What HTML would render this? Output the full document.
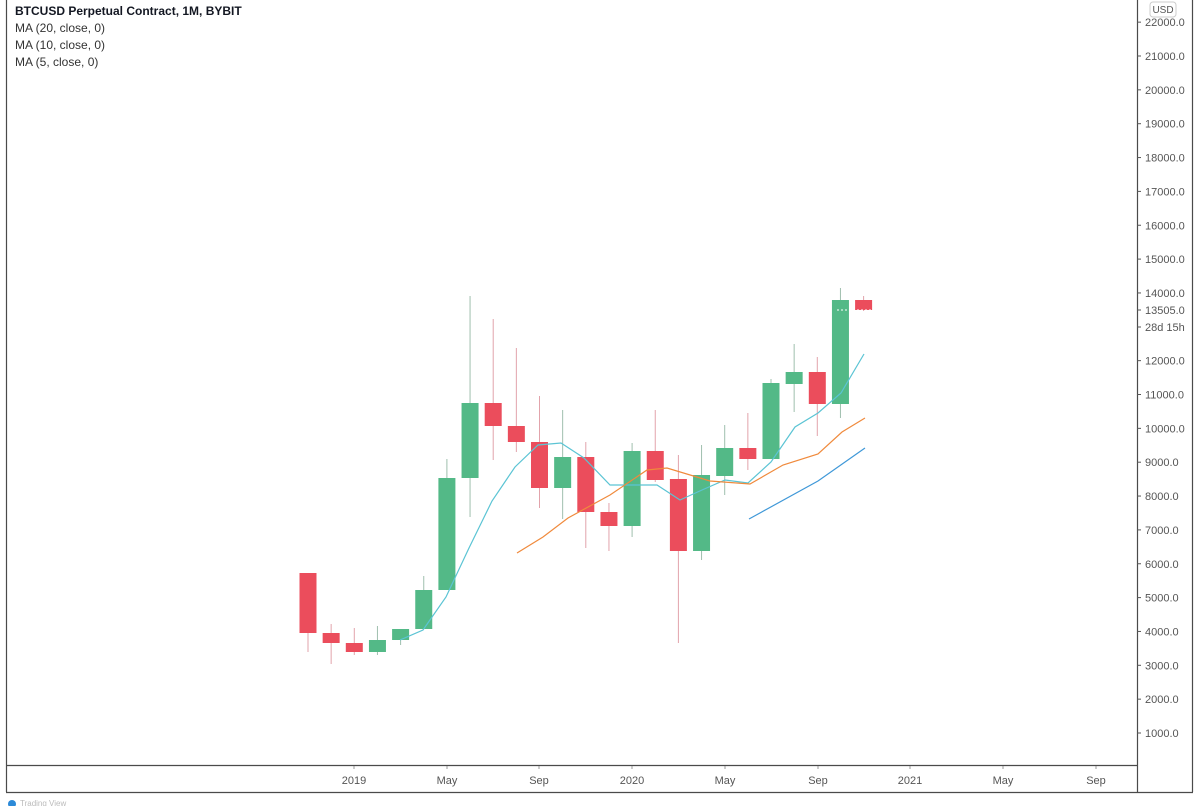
<!DOCTYPE html>
<html><head><meta charset="utf-8"><style>
html,body{margin:0;padding:0;background:#fff;width:1198px;height:806px;overflow:hidden}
svg{display:block;font-family:"Liberation Sans",sans-serif}
</style></head><body>
<svg width="1198" height="806" viewBox="0 0 1198 806">
<rect width="1198" height="806" fill="#fff"/>
<g stroke="#4a4a4a" stroke-width="1.2" fill="none">
<line x1="6.5" y1="0" x2="6.5" y2="792"/>
<line x1="6" y1="792.5" x2="1193" y2="792.5"/>
<line x1="6" y1="765.5" x2="1137" y2="765.5"/>
<line x1="1137.5" y1="0" x2="1137.5" y2="792"/>
<line x1="1192.5" y1="0" x2="1192.5" y2="792"/>
</g>
<g font-size="12" fill="#131722">
<text x="15" y="15" font-weight="bold">BTCUSD Perpetual Contract, 1M, BYBIT</text>
<text x="15" y="32" fill="#333">MA (20, close, 0)</text>
<text x="15" y="49" fill="#333">MA (10, close, 0)</text>
<text x="15" y="66" fill="#333">MA (5, close, 0)</text>
</g>
<g font-size="11" fill="#555" id="yax"></g>
<rect x="1150" y="2" width="26" height="15" rx="3" fill="#fff" stroke="#ccc"/>
<text x="1163" y="13" font-size="10" fill="#555" text-anchor="middle">USD</text>
<g font-size="11" fill="#555" text-anchor="middle">
<text x="354" y="784">2019</text><text x="447" y="784">May</text><text x="539" y="784">Sep</text>
<text x="632" y="784">2020</text><text x="725" y="784">May</text><text x="818" y="784">Sep</text>
<text x="910" y="784">2021</text><text x="1003" y="784">May</text><text x="1096" y="784">Sep</text>
</g>
<g stroke="#999" stroke-width="1">
<line x1="354" y1="766" x2="354" y2="769"/><line x1="447" y1="766" x2="447" y2="769"/><line x1="539" y1="766" x2="539" y2="769"/>
<line x1="632" y1="766" x2="632" y2="769"/><line x1="725" y1="766" x2="725" y2="769"/><line x1="818" y1="766" x2="818" y2="769"/>
<line x1="910" y1="766" x2="910" y2="769"/><line x1="1003" y1="766" x2="1003" y2="769"/><line x1="1096" y1="766" x2="1096" y2="769"/>
</g>
<g id="candles"></g>
<polyline fill="none" stroke="#5bc4d4" stroke-width="1.2" points="400,640 423,630 446,597 469,548 492,501 515,467 538,445 561,443 584,458 610,485 632,485 657,485 680,500 702,490 725,480 748,483 771,462 795,427 818,413 841,393 864,354"/>
<polyline fill="none" stroke="#f08a3c" stroke-width="1.2" points="517,553 543,537 568,518 610,495 647,470 667,468 710,481 750,484 783,465 818,454 842,432 865,418"/>
<polyline fill="none" stroke="#3f98d8" stroke-width="1.2" points="749,519 818,481 865,448"/>
<line x1="837" y1="310" x2="873" y2="310" stroke="#fff" stroke-dasharray="2,2"/>
<circle cx="12" cy="804" r="4" fill="#2d8ad8"/>
<text x="20" y="806" font-size="8" fill="#bbb">Trading View</text>
</svg>
<script>
var ax=document.getElementById('yax'),s='';
for(var p=1000;p<=22000;p+=1000){if(p==13000)continue;var y=733-(p-1000)*0.03385;
s+='<line x1="1137" y1="'+y+'" x2="1141" y2="'+y+'" stroke="#555"/><text x="1145" y="'+(y+4)+'">'+p+'.0</text>';}
s+='<line x1="1137" y1="310" x2="1141" y2="310" stroke="#555"/><text x="1145" y="314">13505.0</text>';
s+='<line x1="1137" y1="327" x2="1141" y2="327" stroke="#555"/><text x="1145" y="331">28d 15h</text>';
ax.innerHTML=s;
var c=[['r',573,633,573,652],['r',633,643,624,664],['r',643,652,628,655],['g',640,652,626,655],['g',629,640,629,645],
['g',590,629,576,629],['g',478,590,459,590],['g',403,478,296,517],['r',403,426,319,460],['r',426,442,348,452],
['r',442,488,396,508],['g',457,488,410,519],['r',457,512,442,548],['r',512,526,503,551],['g',451,526,443,537],
['r',451,480,410,482],['r',479,551,455,643],['g',475,551,445,560],['g',448,476,425,495],['r',448,459,413,470],
['g',383,459,379,459],['g',372,384,344,412],['r',372,404,357,436],['g',300,404,288,418],['r',300,310,296,311]];
var h='';
c.forEach(function(d,i){var x=308+i*23.15;var col=d[0]=='g'?'#53b987':'#eb4d5c';var wc=d[0]=='g'?'#9fbfae':'#e2a3ab';
h+='<line x1="'+x+'" y1="'+d[3]+'" x2="'+x+'" y2="'+d[4]+'" stroke="'+wc+'" stroke-width="1"/>';
h+='<rect x="'+(x-8.5)+'" y="'+d[1]+'" width="17" height="'+(d[2]-d[1])+'" fill="'+col+'"/>';});
document.getElementById('candles').innerHTML=h;
</script>
</body></html>
